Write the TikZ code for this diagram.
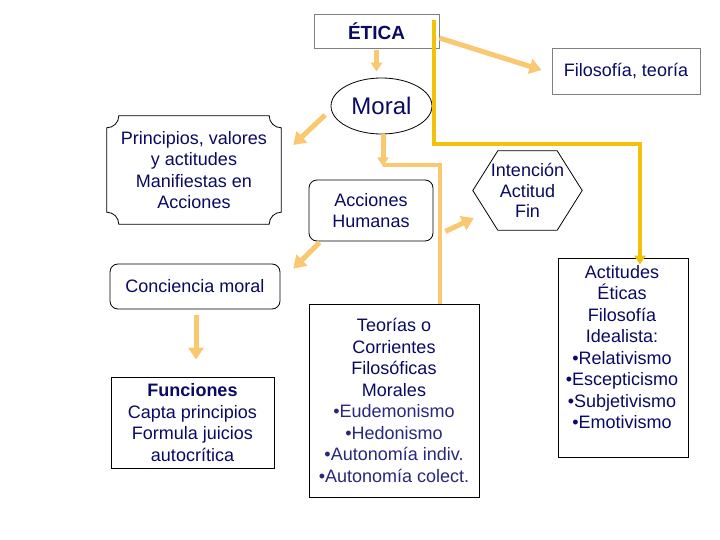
\documentclass[tikz,border=0pt]{standalone}
\usepackage{fontspec}
\setmainfont{Liberation Sans}
\usetikzlibrary{arrows.meta,shapes.geometric,calc}
\definecolor{txt}{RGB}{10,10,100}
\definecolor{txtb}{RGB}{40,40,125}
\definecolor{lor}{RGB}{249,200,112}
\definecolor{gold}{RGB}{242,194,10}
\definecolor{gbord}{RGB}{128,128,128}
\begin{document}
\begin{tikzpicture}[x=1pt,y=-1pt,
  every node/.style={font=\fontsize{18}{21.5}\selectfont, text=txt, align=center, inner sep=0pt},
  box/.style={draw=black, line width=0.8pt},
  graybox/.style={draw=gbord, line width=0.9pt},
  lar/.style={draw=lor, line width=5pt, -{Triangle[width=15pt,length=12pt]}},
  lars/.style={draw=lor, line width=5pt, -{Triangle[width=11pt,length=9pt]}},
  lline/.style={draw=lor, line width=4pt},
  gar/.style={draw=gold, line width=4pt, line join=miter, -{Triangle[width=11pt,length=9pt]}}
]
\useasboundingbox (0,0) rectangle (720,540);
\fill[white] (0,0) rectangle (720,540);

% nodes
\node[graybox, minimum width=125pt, minimum height=34pt, font=\bfseries\fontsize{19}{22}\selectfont] (etica) at (376.5,31) {ÉTICA};
\node[graybox, minimum width=148pt, minimum height=46pt] (filo) at (626,71) {Filosofía, teoría};
\node[box, ellipse, minimum width=101pt, minimum height=56pt, font=\fontsize{24}{28}\selectfont] (moral) at (381.5,106) {Moral};
\node[minimum width=174pt, minimum height=108pt] (princ) at (194,170) {Principios, valores\\y actitudes\\Manifiestas en\\Acciones};
\node[box, rounded corners=8pt, minimum width=124pt, minimum height=61pt] (acc) at (371,210.5) {Acciones\\Humanas};
\node[minimum width=109pt, minimum height=79pt, font=\fontsize{18}{20.5}\selectfont] (int) at (527.5,190.5) {Intención\\Actitud\\Fin};
\node[box, rounded corners=8pt, minimum width=170pt, minimum height=45pt] (conc) at (195,286.5) {Conciencia moral};
\node[box, minimum width=163pt, minimum height=91pt] (func) at (192.5,422.5) {\textbf{Funciones}\\Capta principios\\Formula juicios\\autocrítica};
\node[box, minimum width=170pt, minimum height=193pt] (teor) at (394,400.5) {Teorías o\\Corrientes\\Filosóficas\\Morales\\\textcolor{txtb}{•Eudemonismo}\\\textcolor{txtb}{•Hedonismo}\\\textcolor{txtb}{•Autonomía indiv.}\\\textcolor{txtb}{•Autonomía colect.}};
\node[box, minimum width=130pt, minimum height=199pt] (act) at (623,357.5) {};
\node (acttxt) at (622,347) {Actitudes\\Éticas\\Filosofía\\Idealista:\\•Relativismo\\•Escepticismo\\•Subjetivismo\\•Emotivismo};

% plaque outline
\draw[box] ($(princ.north west)+(12pt,0)$) -- ($(princ.north east)+(-12pt,0)$)
  arc[start angle=180,end angle=270,radius=12pt] -- ($(princ.south east)+(0,12pt)$)
  arc[start angle=90,end angle=180,radius=12pt] -- ($(princ.south west)+(12pt,0)$)
  arc[start angle=0,end angle=90,radius=12pt] -- ($(princ.north west)+(0,-12pt)$)
  arc[start angle=270,end angle=360,radius=12pt] -- cycle;

% hexagon outline
\draw[box] (int.west) -- ($(int.north west)+(25pt,0)$) -- ($(int.north east)+(-25pt,0)$)
  -- (int.east) -- ($(int.south east)+(-25pt,0)$) -- ($(int.south west)+(25pt,0)$) -- cycle;

% connectors
\draw[lline] ($(moral.south)+(1.5,31)$) -| (teor.north -| 440,0);
\draw[lar] ($(etica.east)+(0,7)$) -- ($(filo.west)+(-10,-1)$);
\draw[lars] ($(etica.south)+(0,2)$) -- ($(moral.north)+(-5,-6)$);
\draw[lar] ($(moral.west)+(-5.5,9)$) -- ($(princ.east)+(12,-25)$);
\draw[lars] ($(moral.south)+(1.5,0)$) -- ($(moral.south)+(1.5,32)$);
\draw[lar] ($(acc.south east)+(12,-10)$) -- ($(int.west)+(1,27.5)$);
\draw[lar] ($(acc.south west)+(11,1)$) -- ($(conc.north east)+(13,5)$);
\draw[lar] ($(conc.south)+(1,6)$) -- ($(func.north)+(3.5,-17)$);
\draw[gar] ($(etica.north east)+(-5,6)$) |- ($(act.north)+(17,-114)$) -- ($(act.north)+(17,7)$);
\end{tikzpicture}
\end{document}
